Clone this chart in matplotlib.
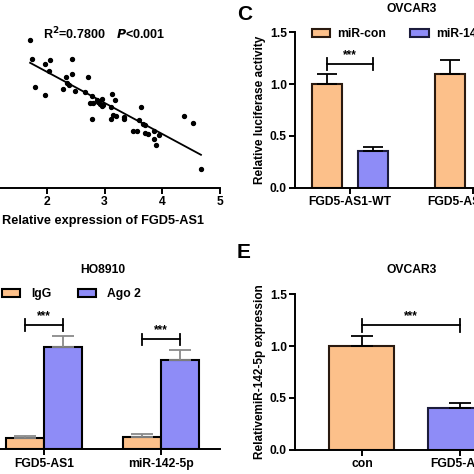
import numpy as np
import matplotlib
matplotlib.use("Agg")
import matplotlib.pyplot as plt

plt.rcParams['font.family'] = ['Liberation Sans', 'DejaVu Sans']
plt.rcParams['font.weight'] = 'bold'
plt.rcParams['axes.labelweight'] = 'bold'
plt.rcParams['axes.titleweight'] = 'bold'
plt.rcParams['mathtext.default'] = 'bf'

ORANGE = '#fcc08a'
BLUE = '#8e8cf7'
EDGE_O = '#2a1a10'
EDGE_B = '#1c1c3c'

# panel B: correlation scatter
fgd5_as1 = [1.71, 1.74, 1.97, 2.06, 2.04, 2.44, 2.44, 2.33, 2.72, 1.79, 1.97, 2.28,
            2.35, 2.38, 2.49, 2.66, 2.78, 2.75, 2.80, 2.87, 2.89, 2.95, 2.92, 2.98,
            2.96, 3.13, 3.18, 3.11, 2.78, 3.11, 3.15, 3.19, 3.33, 3.34, 3.63, 3.59,
            3.67, 3.70, 3.49, 3.56, 3.70, 3.76, 3.85, 3.86, 3.89, 3.95, 4.37, 4.54, 4.67]
mir142 = [3.71, 3.22, 3.10, 3.19, 2.92, 3.22, 2.84, 2.77, 2.78, 2.53, 2.33, 2.48,
          2.63, 2.57, 2.43, 2.41, 2.29, 2.13, 2.13, 2.19, 2.15, 2.23, 2.09, 2.07,
          2.04, 2.36, 2.21, 2.03, 1.73, 1.73, 1.82, 1.79, 1.78, 1.73, 2.03, 1.69,
          1.61, 1.57, 1.43, 1.43, 1.38, 1.36, 1.42, 1.23, 1.07, 1.32, 1.79, 1.63, 0.48]
fit_x = [1.71, 4.67]
fit_y = [3.13, 0.83]

# panel C: luciferase, OVCAR3
luc_groups = ['FGD5-AS1-WT', 'FGD5-AS1-MUT']
luc_con = [1.00, 1.10]
luc_con_err = [0.10, 0.13]
luc_mir = [0.35, 1.02]
luc_mir_err = [0.04, 0.10]

# panel D: RIP, HO8910
rip_groups = ['FGD5-AS1', 'miR-142-5p']
rip_igg = [1.00, 1.09]
rip_igg_err = [0.17, 0.20]
rip_ago = [8.82, 7.67]
rip_ago_err = [0.95, 0.86]

# panel E: qPCR, OVCAR3
e_groups = ['con', 'FGD5-AS1']
e_vals = [1.00, 0.40]
e_err = [0.10, 0.05]

W = 474.0
fig = plt.figure(figsize=(4.74, 4.74), dpi=100)


def box(left, top, right, bottom):
    return [left / W, 1 - bottom / W, (right - left) / W, (bottom - top) / W]


def fx(x):
    return x / W


def fy(y):
    return 1 - y / W


def style(ax, left=True):
    for s in ['top', 'right']:
        ax.spines[s].set_visible(False)
    for s in ['left', 'bottom']:
        ax.spines[s].set_linewidth(1.4)
    ax.spines['left'].set_visible(left)
    ax.tick_params(width=1.4, length=4, labelsize=8.7, pad=2)


def bracket(ax, x1, x2, y, h, col='black'):
    ax.plot([x1, x2], [y, y], color=col, lw=1.3)
    ax.plot([x1, x1], [y - h, y + h], color=col, lw=1.3)
    ax.plot([x2, x2], [y - h, y + h], color=col, lw=1.3)
    ax.text((x1 + x2) / 2, y + h * 0.5, '***', ha='center', va='bottom', fontsize=8.5)


# ---- scatter
ax1 = fig.add_axes(box(-68.6, 28, 220, 188))
ax1.scatter(fgd5_as1, mir142, s=8, color='black', zorder=3)
ax1.plot(fit_x, fit_y, color='black', lw=1.3)
ax1.set_xlim(0, 5)
ax1.set_ylim(0, 4)
ax1.set_xticks([2, 3, 4, 5])
style(ax1, left=False)
ax1.set_yticks([])
ax1.set_xlabel('Relative expression of FGD5-AS1', fontsize=9.2)
ax1.xaxis.set_label_coords(0.595, -0.17)
fig.text(fx(43), fy(34), 'R$^2$=0.7800', fontsize=9, va='center')
fig.text(fx(116), fy(34), '$\\mathbf{\\mathit{P}}$<0.001', fontsize=9, va='center')

# ---- panel C
axc = fig.add_axes(box(295.3, 32.3, 527, 187.7))
x = np.arange(len(luc_groups))
bw, off = 0.244, 0.187
axc.bar(x - off, luc_con, bw, color=ORANGE, edgecolor=EDGE_O, lw=1.5, label='miR-con')
axc.bar(x + off, luc_mir, bw, color=BLUE, edgecolor=EDGE_B, lw=1.5, label='miR-142-5p')
axc.errorbar(x - off, luc_con, yerr=[[0, 0], luc_con_err], fmt='none', ecolor='black',
             elinewidth=1.3, capsize=7, capthick=1.3)
axc.errorbar(x + off, luc_mir, yerr=[[0, 0], luc_mir_err], fmt='none', ecolor='black',
             elinewidth=1.3, capsize=7, capthick=1.3)
axc.set_xlim(-0.442, 1.442)
axc.set_ylim(0, 1.5)
axc.set_yticks([0, 0.5, 1.0, 1.5])
axc.set_xticks(x)
axc.set_xticklabels(luc_groups)
style(axc)
axc.set_ylabel('Relative luciferase activity', fontsize=8.5, labelpad=3)
bracket(axc, x[0] - off, x[0] + off, 1.193, 0.055)
axc.legend(loc='upper left', bbox_to_anchor=(fx(312), fy(28)), bbox_transform=fig.transFigure,
           ncol=2, frameon=False, fontsize=8.7, handlelength=1.5, handleheight=0.6,
           handletextpad=0.6, columnspacing=2.0, borderpad=0, borderaxespad=0)
fig.text(fx(412), fy(9.3), 'OVCAR3', fontsize=8.7, ha='center', va='center')
fig.text(fx(237), fy(15), 'C', fontsize=15, ha='left', va='center')

# ---- panel D
axd = fig.add_axes(box(-40, 275.3, 220, 449.3))
x = np.arange(len(rip_groups))
bw, off = 0.326, 0.163
axd.bar(x - off, rip_igg, bw, color=ORANGE, edgecolor='black', lw=1.5, label='IgG')
axd.bar(x + off, rip_ago, bw, color=BLUE, edgecolor='black', lw=1.5, label='Ago 2')
axd.errorbar(x - off, rip_igg, yerr=[[0, 0], rip_igg_err], fmt='none', ecolor='#8a8a8a',
             elinewidth=1.3, capsize=8, capthick=1.3)
axd.errorbar(x + off, rip_ago, yerr=[[0, 0], rip_ago_err], fmt='none', ecolor='#8a8a8a',
             elinewidth=1.3, capsize=8, capthick=1.3)
axd.set_xlim(-0.722, 1.506)
axd.set_ylim(0, 15)
axd.set_xticks(x)
axd.set_xticklabels(rip_groups)
style(axd, left=False)
axd.set_yticks([])
bracket(axd, x[0] - off, x[0] + off, 10.69, 0.5)
bracket(axd, x[1] - off, x[1] + off, 9.48, 0.5)
axd.legend(loc='upper left', bbox_to_anchor=(fx(2), fy(288)), bbox_transform=fig.transFigure,
           ncol=2, frameon=False, fontsize=8.7, handlelength=1.5, handleheight=0.6,
           handletextpad=0.9, columnspacing=2.2, borderpad=0, borderaxespad=0)
fig.text(fx(103), fy(270), 'HO8910', fontsize=8.7, ha='center', va='center')

# ---- panel E
axe = fig.add_axes(box(295.3, 294.3, 527, 449.7))
x = np.arange(len(e_groups))
axe.bar(x, e_vals, 0.661, color=[ORANGE, BLUE], edgecolor=[EDGE_O, EDGE_B], lw=1.5)
axe.errorbar(x, e_vals, yerr=[[0, 0], e_err], fmt='none', ecolor='black',
             elinewidth=1.3, capsize=8, capthick=1.3)
axe.set_xlim(-0.678, 1.678)
axe.set_ylim(0, 1.5)
axe.set_yticks([0, 0.5, 1.0, 1.5])
axe.set_xticks(x)
axe.set_xticklabels(e_groups)
style(axe)
axe.set_ylabel('RelativemiR-142-5p expression', fontsize=8.5, labelpad=3)
bracket(axe, x[0], x[1], 1.20, 0.06)
fig.text(fx(412), fy(270), 'OVCAR3', fontsize=8.7, ha='center', va='center')
fig.text(fx(237), fy(252), 'E', fontsize=15, ha='left', va='center')

fig.savefig('out.png', dpi=100)
